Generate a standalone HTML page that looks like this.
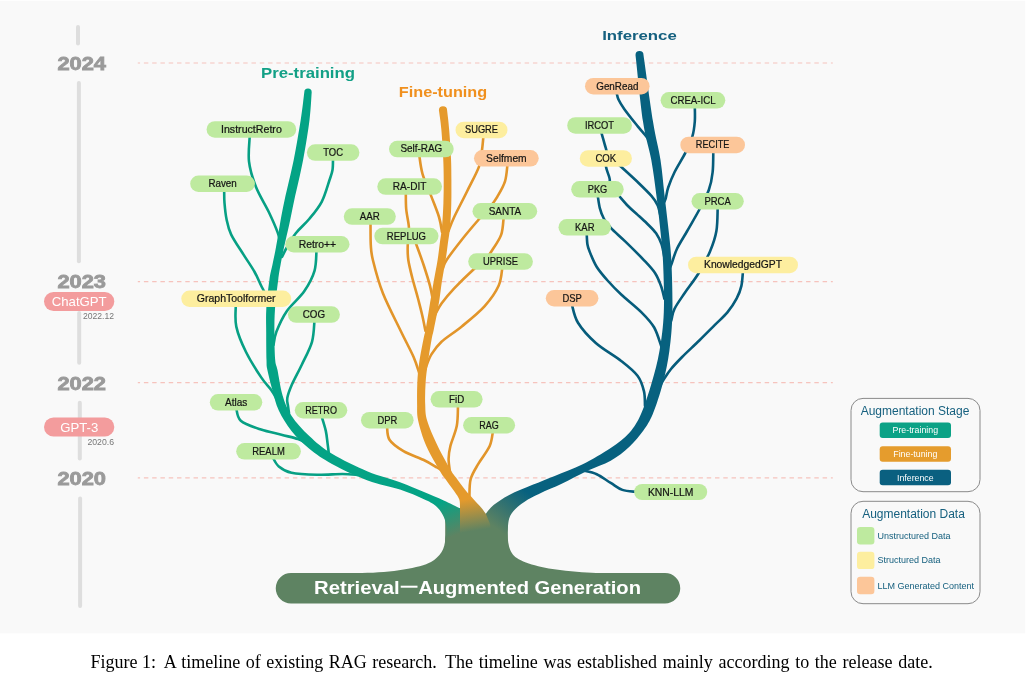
<!DOCTYPE html>
<html><head><meta charset="utf-8"><title>RAG timeline</title>
<style>html,body{margin:0;padding:0;background:#fff;}body{width:1028px;height:686px;position:relative;overflow:hidden;font-family:"Liberation Sans",sans-serif;}</style>
</head><body>
<svg width="1028" height="686" viewBox="0 0 1028 686" style="position:absolute;left:0;top:0;will-change:transform">
<defs>
<linearGradient id="gg" gradientUnits="userSpaceOnUse" x1="438" y1="503" x2="451" y2="537"><stop offset="0" stop-color="#04a385"/><stop offset="1" stop-color="#5e8362"/></linearGradient>
<linearGradient id="gb" gradientUnits="userSpaceOnUse" x1="526" y1="491" x2="497" y2="529"><stop offset="0" stop-color="#07617f"/><stop offset="1" stop-color="#5e8362"/></linearGradient>
<linearGradient id="go" gradientUnits="userSpaceOnUse" x1="468" y1="499" x2="473" y2="531"><stop offset="0" stop-color="#e59a2c"/><stop offset="1" stop-color="#5e8362"/></linearGradient>
</defs>
<rect x="0" y="0.8" width="1025.2" height="632.5" fill="#f9f9f9"/>
<line x1="137.8" y1="63.0" x2="832.8" y2="63.0" stroke="#f6c3bd" stroke-width="1.2" stroke-dasharray="4.45 3.827" stroke-dashoffset="2.177"/>
<line x1="137.8" y1="281.6" x2="832.8" y2="281.6" stroke="#f6c3bd" stroke-width="1.2" stroke-dasharray="4.45 3.827" stroke-dashoffset="2.177"/>
<line x1="137.8" y1="382.7" x2="832.8" y2="382.7" stroke="#f6c3bd" stroke-width="1.2" stroke-dasharray="4.45 3.827" stroke-dashoffset="2.177"/>
<line x1="137.8" y1="477.9" x2="832.8" y2="477.9" stroke="#f6c3bd" stroke-width="1.2" stroke-dasharray="4.45 3.827" stroke-dashoffset="2.177"/>
<line x1="78.0" y1="27.0" x2="78.0" y2="43.5" stroke="#dedede" stroke-width="4" stroke-linecap="round"/>
<line x1="78.9" y1="83.0" x2="78.9" y2="261.3" stroke="#dedede" stroke-width="4" stroke-linecap="round"/>
<line x1="79.2" y1="313.0" x2="79.2" y2="362.7" stroke="#dedede" stroke-width="4" stroke-linecap="round"/>
<line x1="79.8" y1="402.7" x2="79.8" y2="458.5" stroke="#dedede" stroke-width="4" stroke-linecap="round"/>
<line x1="80.1" y1="498.4" x2="80.1" y2="606.0" stroke="#dedede" stroke-width="4" stroke-linecap="round"/>
<text x="57.4" y="70.0" font-family="Liberation Sans" font-weight="bold" font-size="17.9" fill="#9a9a9a" stroke="#9a9a9a" stroke-width="0.8" textLength="48.6" lengthAdjust="spacingAndGlyphs">2024</text>
<text x="57.4" y="288.2" font-family="Liberation Sans" font-weight="bold" font-size="17.9" fill="#9a9a9a" stroke="#9a9a9a" stroke-width="0.8" textLength="48.6" lengthAdjust="spacingAndGlyphs">2023</text>
<text x="57.4" y="389.7" font-family="Liberation Sans" font-weight="bold" font-size="17.9" fill="#9a9a9a" stroke="#9a9a9a" stroke-width="0.8" textLength="48.6" lengthAdjust="spacingAndGlyphs">2022</text>
<text x="57.4" y="485.2" font-family="Liberation Sans" font-weight="bold" font-size="17.9" fill="#9a9a9a" stroke="#9a9a9a" stroke-width="0.8" textLength="48.6" lengthAdjust="spacingAndGlyphs">2020</text>
<rect x="44" y="292" width="70.3" height="19" rx="9.5" fill="#f39c9d"/>
<text x="79.2" y="306" text-anchor="middle" font-family="Liberation Sans" font-size="13.2" fill="#fff">ChatGPT</text>
<text x="114" y="319.2" text-anchor="end" font-family="Liberation Sans" font-size="8.6" fill="#777">2022.12</text>
<rect x="44" y="417.5" width="70.3" height="19" rx="9.5" fill="#f39c9d"/>
<text x="79.2" y="431.5" text-anchor="middle" font-family="Liberation Sans" font-size="13.2" fill="#fff">GPT-3</text>
<text x="114" y="445.4" text-anchor="end" font-family="Liberation Sans" font-size="8.7" fill="#777">2020.6</text>
<path d="M249.8 135.0 C249.7 139.4 248.0 152.8 249.0 161.5 C250.0 170.2 252.7 178.6 256.0 187.0 C259.3 195.4 265.2 204.4 268.8 212.0 C272.4 219.6 275.7 227.1 277.7 232.6 C279.7 238.1 280.4 242.9 281.0 245.0" fill="none" stroke="#07a084" stroke-width="2.6" stroke-linecap="round"/>
<path d="M333.0 159.0 C332.9 160.8 333.1 166.5 332.5 170.0 C331.9 173.5 331.3 174.7 329.5 180.0 C327.7 185.3 325.1 195.3 321.7 201.8 C318.3 208.3 313.5 213.8 309.2 219.0 C304.9 224.2 299.8 228.2 296.0 233.0 C292.2 237.8 288.8 244.0 286.5 248.0 C284.2 252.0 282.8 255.5 282.0 257.0" fill="none" stroke="#07a084" stroke-width="2.6" stroke-linecap="round"/>
<path d="M224.2 190.0 C224.2 192.2 224.1 198.2 224.5 203.0 C224.9 207.8 225.4 213.7 226.5 219.0 C227.6 224.3 228.3 228.6 231.2 234.6 C234.1 240.6 239.8 248.7 243.7 254.9 C247.6 261.1 251.6 266.6 254.6 272.0 C257.6 277.4 259.4 282.3 261.8 287.0 C264.2 291.7 267.8 297.8 269.0 300.0" fill="none" stroke="#07a084" stroke-width="2.6" stroke-linecap="round"/>
<path d="M316.5 250.0 C316.2 253.5 316.5 264.0 314.5 270.8 C312.5 277.6 309.0 284.2 304.4 291.0 C299.8 297.8 291.3 304.6 286.6 311.4 C281.9 318.2 278.6 326.1 276.4 331.7 C274.2 337.3 274.0 342.8 273.5 345.0" fill="none" stroke="#07a084" stroke-width="2.6" stroke-linecap="round"/>
<path d="M314.5 320.0 C314.1 323.6 314.1 334.4 312.0 341.8 C309.9 349.2 305.2 357.5 301.8 364.7 C298.4 371.9 294.1 379.4 291.7 385.0 C289.3 390.6 287.9 394.5 287.3 398.0 C286.7 401.5 287.7 403.5 288.0 406.0 C288.3 408.5 288.8 411.8 289.0 413.0" fill="none" stroke="#07a084" stroke-width="2.6" stroke-linecap="round"/>
<path d="M235.8 305.0 C235.9 308.6 234.6 318.8 236.3 326.6 C238.0 334.4 241.8 343.5 246.0 352.0 C250.2 360.5 257.0 371.1 261.2 377.4 C265.4 383.7 268.7 386.6 271.2 390.0 C273.7 393.4 275.2 396.7 276.0 398.0" fill="none" stroke="#07a084" stroke-width="2.6" stroke-linecap="round"/>
<path d="M236.2 408.0 C237.0 410.1 236.7 417.2 240.8 420.8 C244.9 424.4 254.2 427.3 261.0 429.6 C267.8 431.9 275.2 433.1 281.4 434.7 C287.5 436.3 294.1 437.8 297.9 439.0 C301.7 440.2 303.0 441.5 304.0 442.0" fill="none" stroke="#07a084" stroke-width="2.6" stroke-linecap="round"/>
<path d="M321.5 416.0 C322.2 418.5 324.8 426.3 325.8 430.9 C326.8 435.5 327.1 439.6 327.6 443.6 C328.1 447.6 328.8 453.1 329.0 455.0" fill="none" stroke="#07a084" stroke-width="2.6" stroke-linecap="round"/>
<path d="M272.5 457.0 C273.6 458.6 275.6 463.8 278.8 466.4 C282.0 469.0 285.1 471.4 291.5 472.8 C297.9 474.2 308.5 474.6 317.0 474.8 C325.5 475.0 335.5 474.0 342.3 474.0 C349.1 474.0 355.4 474.8 358.0 475.0" fill="none" stroke="#07a084" stroke-width="2.6" stroke-linecap="round"/>
<path d="M483.4 136.0 C483.2 138.3 482.7 144.9 482.0 150.0 C481.3 155.1 481.5 159.7 479.0 166.6 C476.5 173.5 471.1 183.1 467.0 191.5 C462.9 199.9 457.3 210.4 454.2 217.0 C451.1 223.6 449.4 228.7 448.5 231.0" fill="none" stroke="#e2952a" stroke-width="2.6" stroke-linecap="round"/>
<path d="M507.5 164.0 C507.1 166.9 506.7 176.0 505.0 181.4 C503.3 186.8 499.9 192.3 497.4 196.6 C494.9 200.9 493.2 203.1 490.0 207.0 C486.8 210.9 483.0 214.6 478.3 220.0 C473.6 225.4 467.1 233.0 461.8 239.7 C456.5 246.4 449.7 255.3 446.6 260.0 C443.5 264.7 443.6 266.7 443.0 268.0" fill="none" stroke="#e2952a" stroke-width="2.6" stroke-linecap="round"/>
<path d="M503.7 217.0 C503.3 219.9 503.1 229.2 501.2 234.7 C499.3 240.2 495.0 245.8 492.3 250.0 C489.6 254.2 488.2 256.7 485.0 260.0 C481.8 263.3 478.3 265.1 473.2 269.8 C468.1 274.5 459.5 282.8 454.2 288.4 C448.9 294.0 444.7 299.2 441.5 303.6 C438.3 308.0 436.1 313.1 435.0 315.0" fill="none" stroke="#e2952a" stroke-width="2.6" stroke-linecap="round"/>
<path d="M502.4 267.0 C501.8 270.1 501.6 279.3 498.6 285.8 C495.7 292.3 490.8 299.3 484.7 306.1 C478.6 312.9 469.0 320.5 461.8 326.4 C454.6 332.3 446.6 337.0 441.5 341.7 C436.4 346.4 434.0 350.2 431.4 354.4 C428.8 358.6 427.3 363.7 426.0 367.0 C424.7 370.3 423.9 372.8 423.5 374.0" fill="none" stroke="#e2952a" stroke-width="2.6" stroke-linecap="round"/>
<path d="M419.2 155.0 C419.8 158.1 420.5 166.9 422.5 173.8 C424.5 180.7 428.6 189.4 431.4 196.6 C434.1 203.8 437.2 211.1 439.0 217.0 C440.8 222.9 441.5 229.5 442.0 232.0" fill="none" stroke="#e2952a" stroke-width="2.6" stroke-linecap="round"/>
<path d="M405.8 192.0 C405.9 194.8 405.7 203.3 406.2 209.0 C406.7 214.7 408.4 221.5 408.8 226.0 C409.2 230.5 408.8 232.7 408.6 236.0 C408.4 239.3 407.8 242.0 407.7 246.0 C407.6 250.0 407.6 254.8 408.3 260.0 C409.1 265.2 410.6 271.1 412.2 277.5 C413.8 283.9 416.4 292.3 418.0 298.5 C419.6 304.7 420.9 309.4 422.1 314.8 C423.4 320.2 424.9 328.3 425.5 331.0" fill="none" stroke="#e2952a" stroke-width="2.6" stroke-linecap="round"/>
<path d="M415.4 242.0 C416.8 245.9 421.4 258.2 423.8 265.5 C426.2 272.8 428.6 280.4 430.0 285.8 C431.4 291.2 432.1 296.0 432.5 298.0" fill="none" stroke="#e2952a" stroke-width="2.6" stroke-linecap="round"/>
<path d="M370.5 222.0 C370.6 225.8 370.4 238.6 370.8 245.0 C371.2 251.4 371.0 252.4 373.0 260.5 C375.0 268.6 378.3 281.7 383.0 293.5 C387.7 305.3 395.9 320.9 401.0 331.5 C406.1 342.1 410.5 349.9 413.6 357.0 C416.7 364.1 418.5 371.2 419.5 374.0" fill="none" stroke="#e2952a" stroke-width="2.6" stroke-linecap="round"/>
<path d="M387.0 426.0 C387.4 428.3 386.8 435.6 389.5 439.8 C392.2 444.0 397.8 447.8 403.5 451.2 C409.2 454.6 418.2 457.3 423.8 460.0 C429.4 462.7 434.1 465.8 437.0 467.5 C439.9 469.2 440.3 469.6 441.0 470.0" fill="none" stroke="#e2952a" stroke-width="2.6" stroke-linecap="round"/>
<path d="M458.0 405.0 C457.8 408.5 458.1 419.0 456.8 425.8 C455.5 432.6 451.8 440.5 450.4 446.0 C449.0 451.5 448.7 454.5 448.6 458.8 C448.5 463.1 449.8 469.8 450.0 472.0" fill="none" stroke="#e2952a" stroke-width="2.6" stroke-linecap="round"/>
<path d="M493.0 431.0 C492.4 433.5 492.1 440.5 489.7 446.0 C487.2 451.5 481.5 458.4 478.3 463.9 C475.1 469.4 472.2 473.5 470.7 479.0 C469.2 484.5 469.6 494.0 469.4 497.0" fill="none" stroke="#e2952a" stroke-width="2.6" stroke-linecap="round"/>
<path d="M616.4 92.0 C616.8 93.2 617.2 96.7 618.5 99.5 C619.8 102.3 621.0 104.4 624.2 108.9 C627.4 113.4 633.9 121.5 637.8 126.4 C641.7 131.3 645.1 134.5 647.5 138.1 C649.9 141.7 651.2 146.3 652.0 148.0" fill="none" stroke="#065c7b" stroke-width="2.6" stroke-linecap="round"/>
<path d="M694.8 106.0 C694.8 108.6 695.2 116.4 694.8 121.5 C694.4 126.6 693.9 131.4 692.3 136.7 C690.7 142.0 688.2 147.3 685.2 153.2 C682.2 159.1 677.3 166.6 674.5 172.3 C671.7 178.0 669.7 183.1 668.2 187.5 C666.7 191.9 666.5 195.9 665.5 199.0 C664.5 202.1 662.6 204.8 662.0 206.0" fill="none" stroke="#065c7b" stroke-width="2.6" stroke-linecap="round"/>
<path d="M713.3 151.0 C713.2 154.6 713.4 165.8 712.6 172.3 C711.9 178.8 711.0 183.8 708.8 190.0 C706.6 196.2 703.0 202.7 699.4 209.5 C695.8 216.3 690.9 224.4 687.2 231.0 C683.5 237.6 679.6 243.3 677.0 248.8 C674.4 254.3 672.9 260.3 671.5 264.0 C670.1 267.7 669.0 269.8 668.5 271.0" fill="none" stroke="#065c7b" stroke-width="2.6" stroke-linecap="round"/>
<path d="M717.7 207.0 C717.5 211.0 717.7 223.6 716.4 231.0 C715.1 238.4 713.0 244.4 710.0 251.4 C707.0 258.4 702.8 266.3 698.6 273.2 C694.4 280.1 688.7 287.1 684.7 293.0 C680.7 298.9 676.7 304.4 674.5 308.8 C672.3 313.2 672.4 316.6 671.5 319.5 C670.6 322.4 669.4 324.9 669.0 326.0" fill="none" stroke="#065c7b" stroke-width="2.6" stroke-linecap="round"/>
<path d="M743.0 271.0 C742.7 273.5 742.4 281.3 741.4 285.9 C740.4 290.5 739.0 294.0 736.7 298.4 C734.4 302.8 731.0 308.0 727.4 312.4 C723.8 316.8 719.6 320.2 714.9 324.9 C710.2 329.6 704.8 335.1 699.3 340.5 C693.8 345.9 686.8 352.2 682.1 357.0 C677.4 361.8 674.0 365.3 671.0 369.0 C668.0 372.7 665.8 376.3 664.0 379.0 C662.2 381.7 661.1 384.0 660.5 385.0" fill="none" stroke="#065c7b" stroke-width="2.6" stroke-linecap="round"/>
<path d="M600.9 131.0 C601.5 133.2 603.6 140.4 604.7 144.4 C605.8 148.4 607.1 151.3 607.3 155.0 C607.5 158.7 605.6 162.4 606.0 166.7 C606.4 171.0 610.3 177.1 609.8 181.0 C609.3 184.9 604.1 188.5 603.0 190.0" fill="none" stroke="#065c7b" stroke-width="2.6" stroke-linecap="round"/>
<path d="M619.2 165.0 C622.2 167.8 632.0 176.7 637.4 181.8 C642.8 187.0 648.0 192.0 651.4 195.9 C654.8 199.8 656.1 201.8 657.6 205.2 C659.1 208.5 660.0 214.2 660.5 216.0" fill="none" stroke="#065c7b" stroke-width="2.6" stroke-linecap="round"/>
<path d="M619.2 196.0 C620.7 197.7 625.0 202.9 628.0 206.0 C631.0 209.1 634.2 211.7 637.4 214.6 C640.6 217.5 643.9 220.4 647.0 223.5 C650.1 226.6 653.7 229.9 656.1 233.3 C658.5 236.8 660.1 240.1 661.5 244.2 C662.9 248.3 664.0 255.7 664.5 258.0" fill="none" stroke="#065c7b" stroke-width="2.6" stroke-linecap="round"/>
<path d="M597.6 195.0 C598.0 197.2 598.9 204.5 599.9 208.4 C600.9 212.3 602.0 215.2 603.8 218.5 C605.6 221.8 607.3 224.1 610.8 227.9 C614.3 231.7 619.4 235.8 624.9 241.1 C630.4 246.4 638.6 254.5 643.6 259.8 C648.6 265.1 652.1 268.6 655.0 273.0 C657.9 277.4 659.4 281.7 661.0 286.0 C662.6 290.3 663.9 296.8 664.5 299.0" fill="none" stroke="#065c7b" stroke-width="2.6" stroke-linecap="round"/>
<path d="M586.7 233.0 C586.8 234.9 586.9 241.0 587.4 244.2 C587.9 247.4 588.2 248.2 589.8 252.0 C591.4 255.8 593.8 262.2 596.8 267.0 C599.8 271.8 603.9 276.4 608.0 281.0 C612.1 285.6 615.6 289.3 621.2 294.5 C626.8 299.7 636.0 306.8 641.5 312.3 C647.0 317.8 650.9 321.7 654.2 327.5 C657.5 333.3 660.3 343.8 661.5 347.0" fill="none" stroke="#065c7b" stroke-width="2.6" stroke-linecap="round"/>
<path d="M571.7 304.0 C572.8 307.1 574.0 316.3 578.0 322.8 C582.0 329.3 588.6 336.6 595.8 343.0 C603.0 349.4 614.2 355.5 621.2 361.0 C628.2 366.5 633.9 370.9 637.7 376.0 C641.5 381.1 642.8 386.4 644.0 391.4 C645.2 396.4 644.8 403.6 645.0 406.0" fill="none" stroke="#065c7b" stroke-width="2.6" stroke-linecap="round"/>
<path d="M583.0 470.5 C585.3 471.1 592.1 472.1 596.7 474.2 C601.3 476.3 606.4 480.3 610.7 482.9 C615.0 485.5 618.2 488.4 622.4 489.9 C626.6 491.4 633.7 491.5 636.0 491.8" fill="none" stroke="#065c7b" stroke-width="2.6" stroke-linecap="round"/>
<path d="M291 573 H362 C392 572.5 420 568 431 562 C440 557 445.2 549 445.2 538.6 L445.2 520 L460 508 L486 514 L508 520 L507.6 533 C507.6 545 510 551 514 555.8 C520 562 540 568 560 570 C575 572 590 573 600 573 H665 A15.2 15.2 0 0 1 665 603.5 H291 A15.2 15.2 0 0 1 291 573 Z" fill="#5e8362"/>
<path d="M304.3 92.2 C303.7 96.8 302.5 108.7 300.7 120.0 C298.9 131.3 296.4 146.7 293.7 160.0 C291.0 173.3 286.9 189.4 284.6 200.0 C282.3 210.6 281.5 215.5 280.1 223.3 C278.7 231.1 277.4 239.8 276.1 246.6 C274.9 253.4 273.7 258.5 272.6 264.1 C271.5 269.7 270.4 272.5 269.4 280.0 C268.3 287.5 266.8 300.2 266.3 309.0 C265.8 317.8 266.2 324.0 266.2 332.5 C266.2 341.0 266.3 353.8 266.5 360.0 C266.7 366.2 266.4 364.9 267.4 370.0 C268.4 375.1 270.6 383.5 272.5 390.3 C274.4 397.1 275.6 403.8 278.8 410.6 C282.0 417.4 286.4 424.5 291.5 430.9 C296.6 437.2 302.6 443.2 309.3 448.7 C316.1 454.2 322.3 458.6 332.0 463.9 C341.7 469.2 356.4 476.1 367.7 480.4 C379.0 484.7 390.7 486.4 400.0 489.5 C409.3 492.6 417.4 496.2 423.4 498.9 C429.4 501.6 432.5 502.9 435.9 505.9 C439.3 508.9 441.9 512.9 443.7 516.8 C445.5 520.7 446.4 525.7 446.6 529.3 C446.9 532.9 445.4 537.0 445.2 538.6 L445.3 548.0 L462.0 548.0 L460.0 508.2 C457.3 506.9 449.8 503.1 443.7 500.4 C437.6 497.7 430.7 494.8 423.4 491.8 C416.1 488.8 409.3 485.6 400.0 482.2 C390.7 478.8 379.0 476.2 367.7 471.5 C356.4 466.8 341.7 459.7 332.0 453.8 C322.3 447.9 316.1 442.4 309.3 436.0 C302.6 429.6 295.9 422.5 291.5 415.7 C287.1 408.9 284.9 403.0 282.6 395.4 C280.3 387.8 278.7 375.9 277.5 370.0 C276.3 364.1 275.7 366.2 275.2 360.0 C274.7 353.8 274.4 341.0 274.4 332.5 C274.4 324.0 274.4 317.8 275.0 309.0 C275.6 300.2 277.2 287.5 278.2 280.0 C279.1 272.5 279.7 269.7 280.7 264.1 C281.7 258.5 282.7 253.4 284.2 246.6 C285.7 239.8 287.8 231.1 289.5 223.3 C291.2 215.5 292.0 210.6 294.3 200.0 C296.6 189.4 300.6 173.3 303.1 160.0 C305.6 146.7 308.1 131.3 309.5 120.0 C310.9 108.7 311.3 96.8 311.7 92.2 A3.7 3.7 0 0 0 304.3 92.2 Z" fill="url(#gg)"/>
<path d="M635.5 55.0 C636.8 66.1 640.4 104.0 643.0 121.5 C645.6 139.0 649.1 147.9 651.3 160.0 C653.5 172.1 654.8 183.2 656.2 194.0 C657.6 204.8 658.7 213.8 659.8 225.0 C660.9 236.2 662.3 246.9 663.0 261.5 C663.7 276.1 664.4 297.4 663.8 312.3 C663.2 327.2 661.5 339.1 659.5 350.8 C657.5 362.5 654.8 372.2 651.7 382.7 C648.6 393.2 644.7 405.7 641.0 414.0 C637.3 422.3 634.4 427.1 629.4 432.7 C624.4 438.3 618.5 442.6 610.7 447.9 C602.9 453.1 592.0 459.5 582.7 464.2 C573.4 468.9 563.1 472.5 554.7 475.9 C546.4 479.3 540.2 481.6 532.6 484.8 C525.0 488.0 515.7 491.6 509.2 495.0 C502.7 498.4 497.5 502.0 493.6 505.1 C489.7 508.2 487.1 512.3 485.8 513.7 L484.0 548.0 L508.0 548.0 L507.6 532.4 C507.9 530.1 507.9 522.3 509.2 518.4 C510.5 514.5 512.3 512.1 515.4 509.0 C518.5 505.9 523.7 502.2 527.9 499.6 C532.1 497.0 534.8 495.8 540.4 493.2 C546.0 490.6 553.9 487.5 561.7 483.8 C569.5 480.1 579.2 474.7 587.4 470.8 C595.6 466.9 603.7 464.7 610.7 460.7 C617.7 456.7 624.0 451.8 629.4 446.7 C634.8 441.6 639.5 435.8 643.4 430.4 C647.3 424.9 649.5 421.9 652.8 414.0 C656.1 406.1 660.2 393.2 663.0 382.7 C665.8 372.2 667.8 362.5 669.4 350.8 C671.0 339.1 672.1 327.2 672.4 312.3 C672.7 297.4 672.1 276.1 671.4 261.5 C670.7 246.9 669.2 236.2 668.0 225.0 C666.8 213.8 665.6 204.8 664.4 194.0 C663.1 183.2 662.4 172.1 660.5 160.0 C658.6 147.9 655.8 139.0 653.0 121.5 C650.2 104.0 645.1 66.1 643.5 55.0 A4.0 4.0 0 0 0 635.5 55.0 Z" fill="url(#gb)"/>
<path d="M438.9 110.3 C439.3 113.4 440.6 121.0 441.3 129.0 C442.0 137.0 442.8 149.8 443.2 158.3 C443.6 166.8 443.7 172.5 443.7 180.0 C443.7 187.5 443.7 195.5 443.4 203.3 C443.1 211.1 442.6 219.8 442.0 226.6 C441.4 233.4 440.4 238.4 439.7 244.0 C439.0 249.6 438.6 253.7 437.6 260.0 C436.6 266.3 434.8 275.2 433.7 281.6 C432.6 288.0 431.7 293.4 430.8 298.5 C429.9 303.6 429.4 307.2 428.5 312.5 C427.6 317.8 426.4 325.4 425.5 330.0 C424.6 334.6 424.4 334.4 423.3 340.0 C422.2 345.6 420.1 356.1 419.1 363.3 C418.1 370.5 417.6 376.3 417.3 383.1 C417.0 389.9 417.0 397.8 417.1 404.1 C417.2 410.4 416.7 413.8 418.2 420.8 C419.7 427.8 422.6 437.6 426.3 446.0 C430.0 454.4 436.8 465.7 440.2 471.5 C443.6 477.3 444.4 477.5 446.8 480.9 C449.2 484.3 452.5 488.7 454.6 491.8 C456.7 494.9 458.4 496.9 459.3 499.6 C460.2 502.3 459.9 506.6 460.0 508.0 L460.0 542.0 L493.0 542.0 L490.0 524.0 L485.8 513.7 C485.0 512.7 483.2 509.9 481.1 507.4 C479.0 504.9 475.9 501.8 473.3 498.9 C470.7 496.0 468.4 493.8 465.5 490.3 C462.6 486.8 458.7 481.2 456.2 477.8 C453.7 474.4 453.8 475.3 450.7 470.0 C447.6 464.7 441.6 454.2 437.7 446.0 C433.8 437.8 429.3 427.8 427.2 420.8 C425.1 413.8 425.5 410.4 425.2 404.1 C424.9 397.8 425.2 389.9 425.6 383.1 C426.0 376.3 426.8 370.5 427.8 363.3 C428.8 356.1 430.5 345.6 431.5 340.0 C432.5 334.4 432.8 334.6 433.7 330.0 C434.6 325.4 436.2 317.8 437.2 312.5 C438.2 307.2 438.8 303.6 439.6 298.5 C440.4 293.4 440.9 288.0 441.9 281.6 C442.9 275.2 444.6 266.3 445.6 260.0 C446.6 253.7 447.1 249.6 447.8 244.0 C448.6 238.4 449.5 233.4 450.1 226.6 C450.7 219.8 451.1 211.1 451.3 203.3 C451.5 195.5 451.4 187.5 451.4 180.0 C451.3 172.5 451.4 166.8 451.0 158.3 C450.6 149.8 449.8 137.0 449.1 129.0 C448.5 121.0 447.4 113.4 447.1 110.3 A4.1 4.1 0 0 0 438.9 110.3 Z" fill="url(#go)"/>
<text x="314.1" y="593.6" font-family="Liberation Sans" font-weight="bold" font-size="18.2" fill="#fff" textLength="85.6" lengthAdjust="spacingAndGlyphs">Retrieval</text>
<rect x="400.7" y="585.7" width="16.8" height="2" fill="#fff"/>
<text x="418.2" y="593.6" font-family="Liberation Sans" font-weight="bold" font-size="18.2" fill="#fff" textLength="222.8" lengthAdjust="spacingAndGlyphs">Augmented Generation</text>
<rect x="206.6" y="121.2" width="89.6" height="16.5" rx="8.25" fill="#beea9f"/>
<text x="251.4" y="133.0" text-anchor="middle" font-family="Liberation Sans" font-size="10.4" fill="#151515" stroke="#151515" stroke-width="0.22" textLength="60.9" lengthAdjust="spacingAndGlyphs">InstructRetro</text>
<rect x="306.9" y="144.3" width="52.5" height="16.5" rx="8.25" fill="#beea9f"/>
<text x="333.1" y="156.0" text-anchor="middle" font-family="Liberation Sans" font-size="10.4" fill="#151515" stroke="#151515" stroke-width="0.22" textLength="19.8" lengthAdjust="spacingAndGlyphs">TOC</text>
<rect x="190.2" y="175.5" width="64.7" height="16.5" rx="8.25" fill="#beea9f"/>
<text x="222.6" y="187.0" text-anchor="middle" font-family="Liberation Sans" font-size="10.4" fill="#151515" stroke="#151515" stroke-width="0.22" textLength="28.4" lengthAdjust="spacingAndGlyphs">Raven</text>
<rect x="285.3" y="236.0" width="64.2" height="16.5" rx="8.25" fill="#beea9f"/>
<text x="317.4" y="248.0" text-anchor="middle" font-family="Liberation Sans" font-size="10.4" fill="#151515" stroke="#151515" stroke-width="0.22" textLength="37.5" lengthAdjust="spacingAndGlyphs">Retro++</text>
<rect x="181.3" y="290.6" width="109.9" height="16.4" rx="8.20" fill="#fdee9f"/>
<text x="236.2" y="302.0" text-anchor="middle" font-family="Liberation Sans" font-size="10.4" fill="#151515" stroke="#151515" stroke-width="0.22" textLength="78.8" lengthAdjust="spacingAndGlyphs">GraphToolformer</text>
<rect x="287.9" y="306.3" width="52.0" height="16.5" rx="8.25" fill="#beea9f"/>
<text x="313.9" y="318.0" text-anchor="middle" font-family="Liberation Sans" font-size="10.4" fill="#151515" stroke="#151515" stroke-width="0.22" textLength="22.3" lengthAdjust="spacingAndGlyphs">COG</text>
<rect x="209.8" y="394.1" width="52.5" height="16.5" rx="8.25" fill="#beea9f"/>
<text x="236.1" y="406.0" text-anchor="middle" font-family="Liberation Sans" font-size="10.4" fill="#151515" stroke="#151515" stroke-width="0.22" textLength="22.3" lengthAdjust="spacingAndGlyphs">Atlas</text>
<rect x="294.8" y="402.0" width="52.5" height="16.5" rx="8.25" fill="#beea9f"/>
<text x="321.1" y="414.0" text-anchor="middle" font-family="Liberation Sans" font-size="10.4" fill="#151515" stroke="#151515" stroke-width="0.22" textLength="31.7" lengthAdjust="spacingAndGlyphs">RETRO</text>
<rect x="236.2" y="443.1" width="64.7" height="16.5" rx="8.25" fill="#beea9f"/>
<text x="268.5" y="455.0" text-anchor="middle" font-family="Liberation Sans" font-size="10.4" fill="#151515" stroke="#151515" stroke-width="0.22" textLength="32.5" lengthAdjust="spacingAndGlyphs">REALM</text>
<rect x="455.5" y="121.7" width="52.0" height="16.5" rx="8.25" fill="#fdee9f"/>
<text x="481.5" y="133.0" text-anchor="middle" font-family="Liberation Sans" font-size="10.4" fill="#151515" stroke="#151515" stroke-width="0.22" textLength="33.0" lengthAdjust="spacingAndGlyphs">SUGRE</text>
<rect x="389.0" y="140.8" width="64.7" height="16.5" rx="8.25" fill="#beea9f"/>
<text x="421.4" y="152.0" text-anchor="middle" font-family="Liberation Sans" font-size="10.4" fill="#151515" stroke="#151515" stroke-width="0.22" textLength="41.9" lengthAdjust="spacingAndGlyphs">Self-RAG</text>
<rect x="474.0" y="150.1" width="64.7" height="16.5" rx="8.25" fill="#fcc699"/>
<text x="506.4" y="162.0" text-anchor="middle" font-family="Liberation Sans" font-size="10.4" fill="#151515" stroke="#151515" stroke-width="0.22" textLength="40.6" lengthAdjust="spacingAndGlyphs">Selfmem</text>
<rect x="377.3" y="178.3" width="64.7" height="16.5" rx="8.25" fill="#beea9f"/>
<text x="409.6" y="190.0" text-anchor="middle" font-family="Liberation Sans" font-size="10.4" fill="#151515" stroke="#151515" stroke-width="0.22" textLength="33.5" lengthAdjust="spacingAndGlyphs">RA-DIT</text>
<rect x="472.5" y="203.0" width="64.7" height="16.4" rx="8.20" fill="#beea9f"/>
<text x="504.9" y="215.0" text-anchor="middle" font-family="Liberation Sans" font-size="10.4" fill="#151515" stroke="#151515" stroke-width="0.22" textLength="32.5" lengthAdjust="spacingAndGlyphs">SANTA</text>
<rect x="343.8" y="208.3" width="52.0" height="16.5" rx="8.25" fill="#beea9f"/>
<text x="369.8" y="220.0" text-anchor="middle" font-family="Liberation Sans" font-size="10.4" fill="#151515" stroke="#151515" stroke-width="0.22" textLength="20.0" lengthAdjust="spacingAndGlyphs">AAR</text>
<rect x="374.3" y="227.8" width="64.2" height="16.5" rx="8.25" fill="#beea9f"/>
<text x="406.4" y="240.0" text-anchor="middle" font-family="Liberation Sans" font-size="10.4" fill="#151515" stroke="#151515" stroke-width="0.22" textLength="39.1" lengthAdjust="spacingAndGlyphs">REPLUG</text>
<rect x="468.2" y="253.3" width="64.7" height="16.5" rx="8.25" fill="#beea9f"/>
<text x="500.5" y="265.0" text-anchor="middle" font-family="Liberation Sans" font-size="10.4" fill="#151515" stroke="#151515" stroke-width="0.22" textLength="34.8" lengthAdjust="spacingAndGlyphs">UPRISE</text>
<rect x="430.6" y="391.0" width="52.0" height="16.6" rx="8.30" fill="#beea9f"/>
<text x="456.6" y="403.0" text-anchor="middle" font-family="Liberation Sans" font-size="10.4" fill="#151515" stroke="#151515" stroke-width="0.22" textLength="15.2" lengthAdjust="spacingAndGlyphs">FiD</text>
<rect x="361.0" y="411.9" width="52.6" height="16.5" rx="8.25" fill="#beea9f"/>
<text x="387.3" y="424.0" text-anchor="middle" font-family="Liberation Sans" font-size="10.4" fill="#151515" stroke="#151515" stroke-width="0.22" textLength="19.8" lengthAdjust="spacingAndGlyphs">DPR</text>
<rect x="463.1" y="417.0" width="52.0" height="16.4" rx="8.20" fill="#beea9f"/>
<text x="489.1" y="429.0" text-anchor="middle" font-family="Liberation Sans" font-size="10.4" fill="#151515" stroke="#151515" stroke-width="0.22" textLength="19.5" lengthAdjust="spacingAndGlyphs">RAG</text>
<rect x="585.0" y="77.9" width="64.6" height="16.5" rx="8.25" fill="#fcc699"/>
<text x="617.3" y="90.0" text-anchor="middle" font-family="Liberation Sans" font-size="10.4" fill="#151515" stroke="#151515" stroke-width="0.22" textLength="42.1" lengthAdjust="spacingAndGlyphs">GenRead</text>
<rect x="660.6" y="92.0" width="64.7" height="16.6" rx="8.30" fill="#beea9f"/>
<text x="693.0" y="104.0" text-anchor="middle" font-family="Liberation Sans" font-size="10.4" fill="#151515" stroke="#151515" stroke-width="0.22" textLength="45.2" lengthAdjust="spacingAndGlyphs">CREA-ICL</text>
<rect x="567.2" y="117.2" width="64.7" height="16.5" rx="8.25" fill="#beea9f"/>
<text x="599.5" y="129.0" text-anchor="middle" font-family="Liberation Sans" font-size="10.4" fill="#151515" stroke="#151515" stroke-width="0.22" textLength="29.2" lengthAdjust="spacingAndGlyphs">IRCOT</text>
<rect x="680.3" y="136.7" width="64.7" height="16.5" rx="8.25" fill="#fcc699"/>
<text x="712.6" y="148.0" text-anchor="middle" font-family="Liberation Sans" font-size="10.4" fill="#151515" stroke="#151515" stroke-width="0.22" textLength="33.5" lengthAdjust="spacingAndGlyphs">RECITE</text>
<rect x="579.8" y="150.2" width="52.1" height="16.5" rx="8.25" fill="#fdee9f"/>
<text x="605.8" y="162.0" text-anchor="middle" font-family="Liberation Sans" font-size="10.4" fill="#151515" stroke="#151515" stroke-width="0.22" textLength="20.8" lengthAdjust="spacingAndGlyphs">COK</text>
<rect x="571.2" y="181.0" width="52.5" height="16.6" rx="8.30" fill="#beea9f"/>
<text x="597.5" y="193.0" text-anchor="middle" font-family="Liberation Sans" font-size="10.4" fill="#151515" stroke="#151515" stroke-width="0.22" textLength="19.5" lengthAdjust="spacingAndGlyphs">PKG</text>
<rect x="691.5" y="193.0" width="52.3" height="16.5" rx="8.25" fill="#beea9f"/>
<text x="717.6" y="205.0" text-anchor="middle" font-family="Liberation Sans" font-size="10.4" fill="#151515" stroke="#151515" stroke-width="0.22" textLength="26.4" lengthAdjust="spacingAndGlyphs">PRCA</text>
<rect x="558.5" y="219.1" width="52.5" height="16.5" rx="8.25" fill="#beea9f"/>
<text x="584.8" y="231.0" text-anchor="middle" font-family="Liberation Sans" font-size="10.4" fill="#151515" stroke="#151515" stroke-width="0.22" textLength="19.5" lengthAdjust="spacingAndGlyphs">KAR</text>
<rect x="688.0" y="256.7" width="110.0" height="16.5" rx="8.25" fill="#fdee9f"/>
<text x="743.0" y="268.0" text-anchor="middle" font-family="Liberation Sans" font-size="10.4" fill="#151515" stroke="#151515" stroke-width="0.22" textLength="78.0" lengthAdjust="spacingAndGlyphs">KnowledgedGPT</text>
<rect x="545.8" y="290.0" width="52.6" height="16.4" rx="8.20" fill="#fcc699"/>
<text x="572.1" y="302.0" text-anchor="middle" font-family="Liberation Sans" font-size="10.4" fill="#151515" stroke="#151515" stroke-width="0.22" textLength="19.4" lengthAdjust="spacingAndGlyphs">DSP</text>
<rect x="634.1" y="484.0" width="73.1" height="16.0" rx="8.00" fill="#beea9f"/>
<text x="670.7" y="496.0" text-anchor="middle" font-family="Liberation Sans" font-size="10.4" fill="#151515" stroke="#151515" stroke-width="0.22" textLength="45.5" lengthAdjust="spacingAndGlyphs">KNN-LLM</text>
<text x="261" y="78.3" font-family="Liberation Sans" font-weight="bold" font-size="14.7" fill="#12a086" textLength="94" lengthAdjust="spacingAndGlyphs">Pre-training</text>
<text x="398.8" y="96.9" font-family="Liberation Sans" font-weight="bold" font-size="14.7" fill="#f0901e" textLength="88.4" lengthAdjust="spacingAndGlyphs">Fine-tuning</text>
<text x="602.2" y="40.2" font-family="Liberation Sans" font-weight="bold" font-size="13.7" fill="#15607f" textLength="74.6" lengthAdjust="spacingAndGlyphs">Inference</text>
<rect x="851" y="398.4" width="129" height="93.3" rx="12" fill="none" stroke="#8a8a8a" stroke-width="1"/>
<text x="915" y="415.4" text-anchor="middle" font-family="Liberation Sans" font-size="12" fill="#16607f">Augmentation Stage</text>
<rect x="879.7" y="422.4" width="71.3" height="15.6" rx="3" fill="#0ba286"/>
<text x="915.3" y="433.4" text-anchor="middle" font-family="Liberation Sans" font-size="8.8" fill="#fff">Pre-training</text>
<rect x="879.7" y="446.2" width="71.3" height="15.6" rx="3" fill="#e59c2d"/>
<text x="915.3" y="457.2" text-anchor="middle" font-family="Liberation Sans" font-size="8.8" fill="#fff">Fine-tuning</text>
<rect x="879.7" y="469.7" width="71.3" height="15.6" rx="3" fill="#0a6080"/>
<text x="915.3" y="480.7" text-anchor="middle" font-family="Liberation Sans" font-size="8.8" fill="#fff">Inference</text>
<rect x="851" y="501.3" width="129" height="102.4" rx="12" fill="none" stroke="#8a8a8a" stroke-width="1"/>
<text x="913.5" y="517.9" text-anchor="middle" font-family="Liberation Sans" font-size="12" fill="#16607f">Augmentation Data</text>
<rect x="857" y="527.0" width="17.4" height="17.4" rx="3.2" fill="#beea9f"/>
<text x="877.4" y="539.1" font-family="Liberation Sans" font-size="9" fill="#16607f">Unstructured Data</text>
<rect x="857" y="551.7" width="17.4" height="17.4" rx="3.2" fill="#fdee9f"/>
<text x="877.4" y="562.8" font-family="Liberation Sans" font-size="9" fill="#16607f">Structured Data</text>
<rect x="857" y="576.8" width="17.4" height="17.4" rx="3.2" fill="#fcc699"/>
<text x="877.4" y="588.8" font-family="Liberation Sans" font-size="9" fill="#16607f">LLM Generated Content</text>
<text x="90.6" y="668.3" font-family="Liberation Serif" font-size="18" fill="#000" style="word-spacing:0.00px">Figure 1:</text>
<text x="163.7" y="668.3" font-family="Liberation Serif" font-size="18" fill="#000" style="word-spacing:1.04px">A timeline of existing RAG research.</text>
<text x="445.1" y="668.3" font-family="Liberation Serif" font-size="18" fill="#000" style="word-spacing:1.19px">The timeline was established mainly according to the release date.</text>
</svg>
</body></html>
